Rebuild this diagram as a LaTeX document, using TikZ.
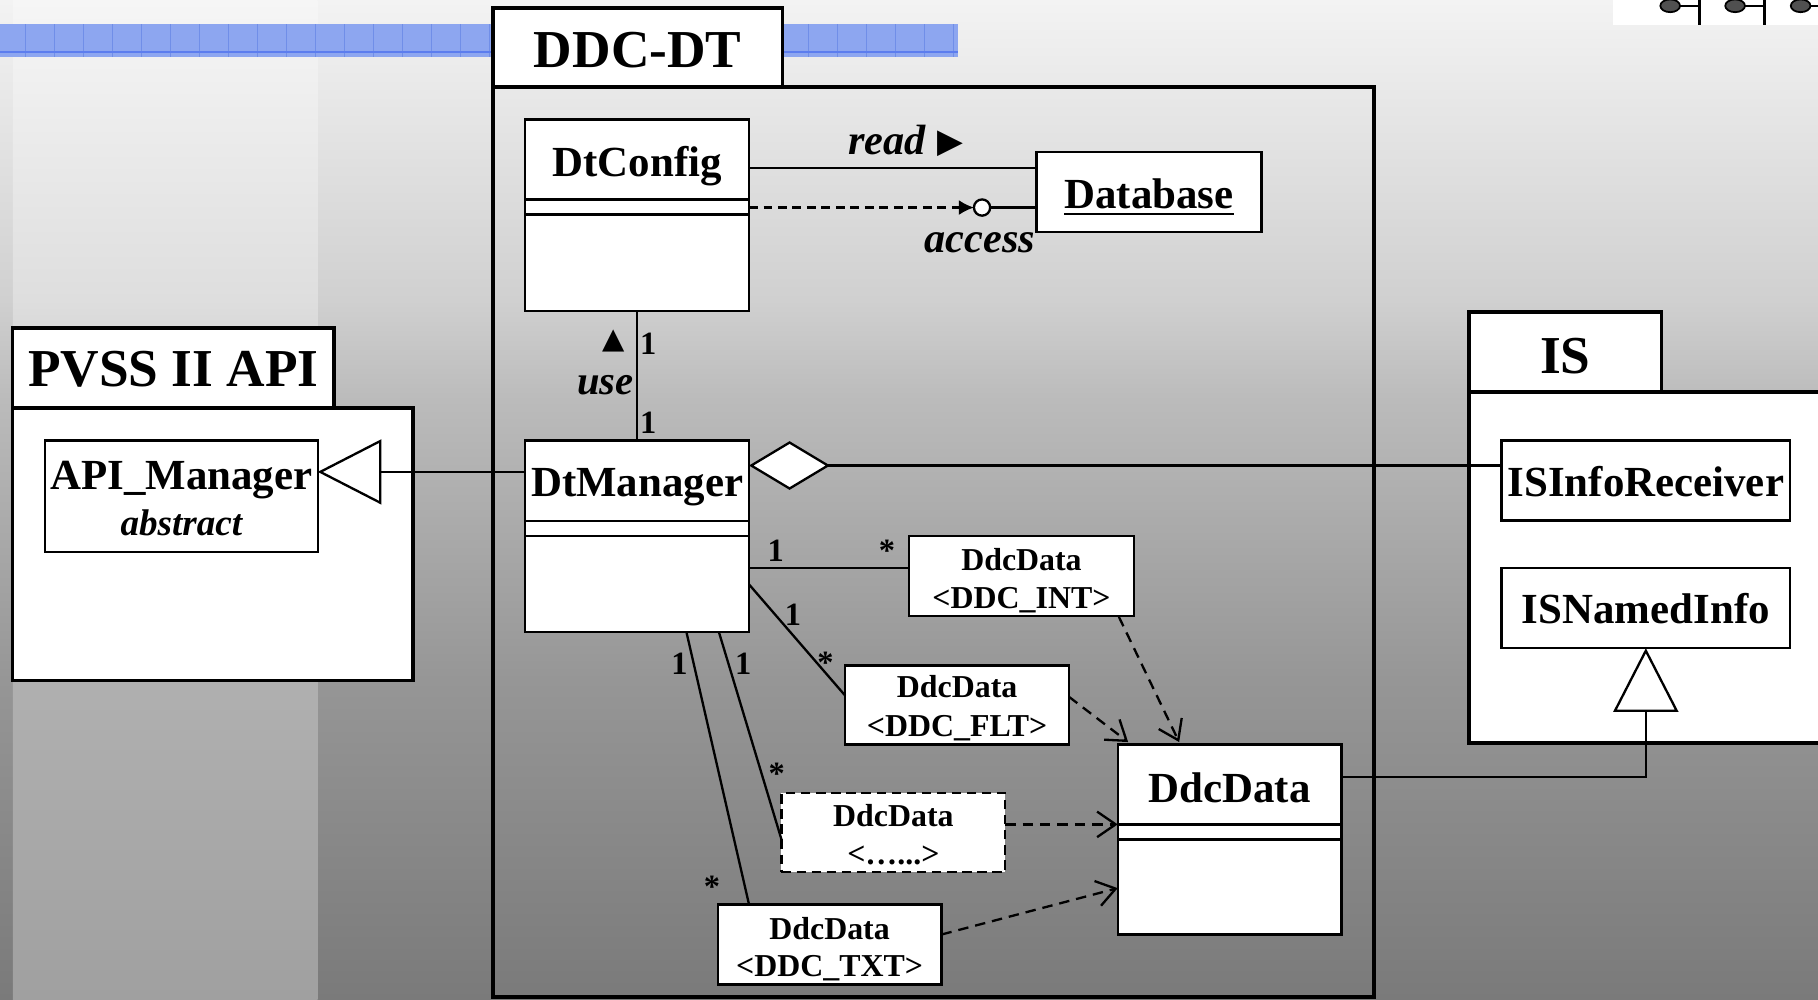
\documentclass[tikz,border=0pt]{standalone}
\usepackage{fontspec}
\setmainfont{Liberation Serif}
\newfontfamily\symfont{DejaVu Sans}
\usetikzlibrary{arrows.meta,calc}

\definecolor{bgA}{RGB}{122,122,122}
\definecolor{bgB}{RGB}{150,150,150}
\definecolor{bgC}{RGB}{187,187,187}
\definecolor{bgE}{RGB}{208,208,208}
\definecolor{bgD}{RGB}{243,243,243}
\definecolor{bdA}{RGB}{160,160,160}
\definecolor{bdB}{RGB}{176,176,176}
\definecolor{bdC}{RGB}{205,205,205}
\definecolor{bdE}{RGB}{222,222,222}
\definecolor{bdD}{RGB}{246,246,246}
\definecolor{bannerblue}{RGB}{141,166,240}
\definecolor{bannerline}{RGB}{112,142,232}
\definecolor{bannerlow}{RGB}{92,125,238}
\definecolor{icongray}{RGB}{80,80,80}

\pgfdeclareverticalshading{bgshade}{100bp}{color(0bp)=(bgA); color(25bp)=(bgA); color(41bp)=(bgB); color(55bp)=(bgC); color(60bp)=(bgE); color(75bp)=(bgD); color(100bp)=(bgD)}
\pgfdeclareverticalshading{bandshade}{100bp}{color(0bp)=(bdA); color(25bp)=(bdA); color(41bp)=(bdB); color(55bp)=(bdC); color(60bp)=(bdE); color(75bp)=(bdD); color(100bp)=(bdD)}

\tikzset{
  pkgbox/.style={draw, line width=3pt, fill=white, inner sep=0pt, outer sep=0pt, anchor=north west},
  pkgframe/.style={draw, line width=3pt, inner sep=0pt, outer sep=0pt, anchor=north west},
  clsbox/.style={draw, line width=2pt, fill=white, inner sep=0pt, outer sep=0pt, anchor=north west},
  dashbox/.style={clsbox, dash pattern=on 8pt off 5pt},
  conn/.style={line width=2pt},
  dep/.style={line width=2pt, dash pattern=on 9pt off 6pt, -{Straight Barb[length=16pt,width=22pt]}},
  pkgname/.style={font=\fontsize{46}{50}\selectfont\bfseries, inner sep=0pt, anchor=base},
  cname/.style={font=\fontsize{37}{42}\selectfont\bfseries, inner sep=0pt, anchor=base},
  sname/.style={font=\fontsize{27.5}{30}\selectfont\bfseries, inner sep=0pt, anchor=base},
  ital/.style={font=\fontsize{36.5}{40}\selectfont\bfseries\itshape, inner sep=0pt, anchor=base},
  mult/.style={font=\fontsize{28}{30}\selectfont\bfseries, inner sep=0pt, anchor=base},
  symb/.style={inner sep=0pt},
}

\begin{document}
\begin{tikzpicture}[x=1pt,y=-1pt]
\useasboundingbox (0,0) rectangle (1568,862);
% background
\shade[shading=bgshade] (0,0) rectangle (1568,862);
\shade[shading=bandshade] (11,0) rectangle (274,862);
% banner
\fill[bannerblue] (0,21) rectangle (826,49);
\foreach \xx in {22,47,...,822} \draw[bannerline, line width=0.9pt] (\xx,21) -- (\xx,49);
\draw[bannerlow, line width=1.5pt] (0,45) -- (826,45);
% icon strip top right
\fill[white] (1391,0) rectangle (1568,21.5);
\foreach \cx in {1440.5,1496.5,1553} {
  \draw[line width=1.6pt] (\cx,5) -- (\cx+25.5,5);
  \draw[line width=2.4pt] (\cx+25.5,0) -- (\cx+25.5,21.5);
  \filldraw[fill=icongray, draw=black, line width=1.5pt] (\cx,5) ellipse (8.5 and 5.5);
}

% packages
\node[pkgframe, minimum width=760pt, minimum height=785pt] (ddcbody) at (425,75) {};
\node[pkgbox, minimum width=250pt, minimum height=68pt] (ddctab) at (425,7) {};
\node[pkgname] (ddctabT) at ($(ddctab.north)+(0,51)$) {DDC-DT};

\node[pkgbox, minimum width=345pt, minimum height=235pt] (pvssbody) at (11,352) {};
\node[pkgbox, minimum width=277pt, minimum height=69pt] (pvsstab) at (11,283) {};
\node[pkgname] (pvsstabT) at ($(pvsstab.north)+(0,50.5)$) {PVSS II API};

\node[pkgbox, minimum width=330pt, minimum height=303pt] (isbody) at (1267,338) {};
\node[pkgbox, minimum width=166pt, minimum height=69pt] (istab) at (1267,269) {};
\node[pkgname] (istabT) at ($(istab.north)+(0,53)$) {IS};

% classes
\node[clsbox, minimum width=193pt, minimum height=165pt] (dtconfig) at (453,103) {};
\node[cname] (dtconfigT) at ($(dtconfig.north)+(0,49.5)$) {DtConfig};
\draw[conn] ($(dtconfig.north west)+(0,69)$) -- ($(dtconfig.north east)+(0,69)$);
\draw[conn] ($(dtconfig.north west)+(0,82)$) -- ($(dtconfig.north east)+(0,82)$);

\node[clsbox, minimum width=194pt, minimum height=69pt] (database) at (894,131) {};
\node[cname] (databaseT) at ($(database.north)+(0,49)$) {Database};
\draw[line width=2.4pt] ($(databaseT.base west)+(0,4.5)$) -- ($(databaseT.base east)+(0,4.5)$);

\node[clsbox, minimum width=193pt, minimum height=165pt] (dtmgr) at (453,380) {};
\node[cname] (dtmgrT) at ($(dtmgr.north)+(0,48)$) {DtManager};
\draw[conn] ($(dtmgr.north west)+(0,69.5)$) -- ($(dtmgr.north east)+(0,69.5)$);
\draw[conn] ($(dtmgr.north west)+(0,82)$) -- ($(dtmgr.north east)+(0,82)$);

\node[clsbox, minimum width=235pt, minimum height=96pt] (apimgr) at (39,380) {};
\node[cname] (apimgrT) at ($(apimgr.north)+(0,42)$) {API\_Manager};
\node[ital, font=\fontsize{32}{36}\selectfont\bfseries\itshape] (apimgrA) at ($(apimgr.north)+(0,82)$) {abstract};

\node[clsbox, minimum width=249pt, minimum height=69pt] (isinfo) at (1295,380) {};
\node[cname] (isinfoT) at ($(isinfo.north)+(0,48)$) {ISInfoReceiver};

\node[clsbox, minimum width=249pt, minimum height=69pt] (isnamed) at (1295,490) {};
\node[cname] (isnamedT) at ($(isnamed.north)+(0,48)$) {ISNamedInfo};

\node[clsbox, minimum width=193pt, minimum height=164pt] (ddcdata) at (964,642) {};
\node[cname] (ddcdataT) at ($(ddcdata.north)+(0,50)$) {DdcData};
\draw[conn] ($(ddcdata.north west)+(0,69)$) -- ($(ddcdata.north east)+(0,69)$);
\draw[conn] ($(ddcdata.north west)+(0,82)$) -- ($(ddcdata.north east)+(0,82)$);

\node[clsbox, minimum width=194pt, minimum height=69pt] (dint) at (784,462) {};
\node[sname] (dintA) at ($(dint.north)+(0,30)$) {DdcData};
\node[sname] (dintB) at ($(dint.north)+(0,63)$) {<DDC\_INT>};

\node[clsbox, minimum width=193pt, minimum height=68pt] (dflt) at (729,574) {};
\node[sname] (dfltA) at ($(dflt.north)+(0,28)$) {DdcData};
\node[sname] (dfltB) at ($(dflt.north)+(0,61)$) {<DDC\_FLT>};

\node[dashbox, minimum width=193pt, minimum height=68pt] (ddots) at (674,684) {};
\node[sname] (ddotsA) at ($(ddots.north)+(0,29)$) {DdcData};
\node[sname] (ddotsB) at ($(ddots.north)+(0,62)$) {<…...>};

\node[clsbox, minimum width=193pt, minimum height=69pt] (dtxt) at (619,780) {};
\node[sname] (dtxtA) at ($(dtxt.north)+(0,30)$) {DdcData};
\node[sname] (dtxtB) at ($(dtxt.north)+(0,62)$) {<DDC\_TXT>};

% read association
\draw[conn] ($(dtconfig.north east)+(0,42)$) -- ($(database.north west)+(0,14)$);
\node[ital] (readT) at (765,133) {read};
\node[symb, font=\symfont\fontsize{29}{29}\selectfont] (readArr) at (820,124) {▶};

% access (lollipop)
\node[draw, circle, line width=2pt, fill=white, minimum size=14pt, inner sep=0pt, outer sep=0pt] (lolli) at (847,179) {};
\draw[conn, dash pattern=on 7.5pt off 5pt, -{Latex[length=13pt,width=13pt]}] ($(dtconfig.north east)+(0,76)$) -- (lolli.west);
\draw[conn] (lolli.east) -- ($(database.north west)+(0,48)$);
\node[ital] (accessT) at (845,218) {access};

% use
\draw[conn] (dtconfig.south) -- (dtmgr.north);
\node[mult] (useM1) at (559,305.5) {1};
\node[mult] (useM2) at (559,373.5) {1};
\node[ital, font=\fontsize{35}{38}\selectfont\bfseries\itshape] (useT) at (522,340) {use};
\node[symb, font=\symfont\fontsize{25}{25}\selectfont] (useArr) at (529,301) {\smash{▲}};

% generalization to API_Manager
\draw[conn, -{Triangle[length=55pt,width=56pt,fill=white]}] ($(dtmgr.north west)+(0,27)$) -- ($(apimgr.north east)+(0,27)$);

% aggregation to ISInfoReceiver
\draw[conn, {Diamond[length=70pt,width=42pt,fill=white]}-] ($(dtmgr.north east)+(0,21.5)$) -- ($(isinfo.north west)+(0,21.5)$);

% generalization DdcData -> ISNamedInfo
\draw[conn, -{Triangle[length=55pt,width=56pt,fill=white]}] ($(ddcdata.north east)+(0,28)$) -| (isnamed.south);

% associations DtManager -> DdcData<...>
\draw[conn] ($(dtmgr.north east)+(0,110)$) -- ($(dint.north west)+(0,28)$);
\node[mult] (intM1) at (669,484.5) {1};
\node[mult] (intM2) at (765,484) {*};

\draw[conn] ($(dtmgr.north east)+(0,124)$) -- ($(dflt.north west)+(0,26)$);
\node[mult] (fltM1) at (684,539.5) {1};
\node[mult] (fltM2) at (712,581) {*};

\draw[conn] ($(dtmgr.south west)+(167,0)$) -- ($(ddots.north west)+(0,40)$);
\node[mult] (dotsM1) at (641,581.5) {1};
\node[mult] (dotsM2) at (670,677) {*};

\draw[conn] ($(dtmgr.south west)+(139,0)$) -- ($(dtxt.north west)+(27,0)$);
\node[mult] (txtM1) at (586,581.5) {1};
\node[mult] (txtM2) at (614,774) {*};

% dependencies to DdcData
\draw[dep] ($(dint.south east)+(-13,1)$) -- ($(ddcdata.north west)+(53,-2)$);
\draw[dep] ($(dflt.north east)+(0,27)$) -- ($(ddcdata.north west)+(9,-2)$);
\draw[dep] ($(ddots.north east)+(0,27)$) -- ($(ddcdata.north west)+(0,69)$);
\draw[dep] ($(dtxt.north east)+(0,26)$) -- ($(ddcdata.north west)+(0,124)$);
\end{tikzpicture}
\end{document}
